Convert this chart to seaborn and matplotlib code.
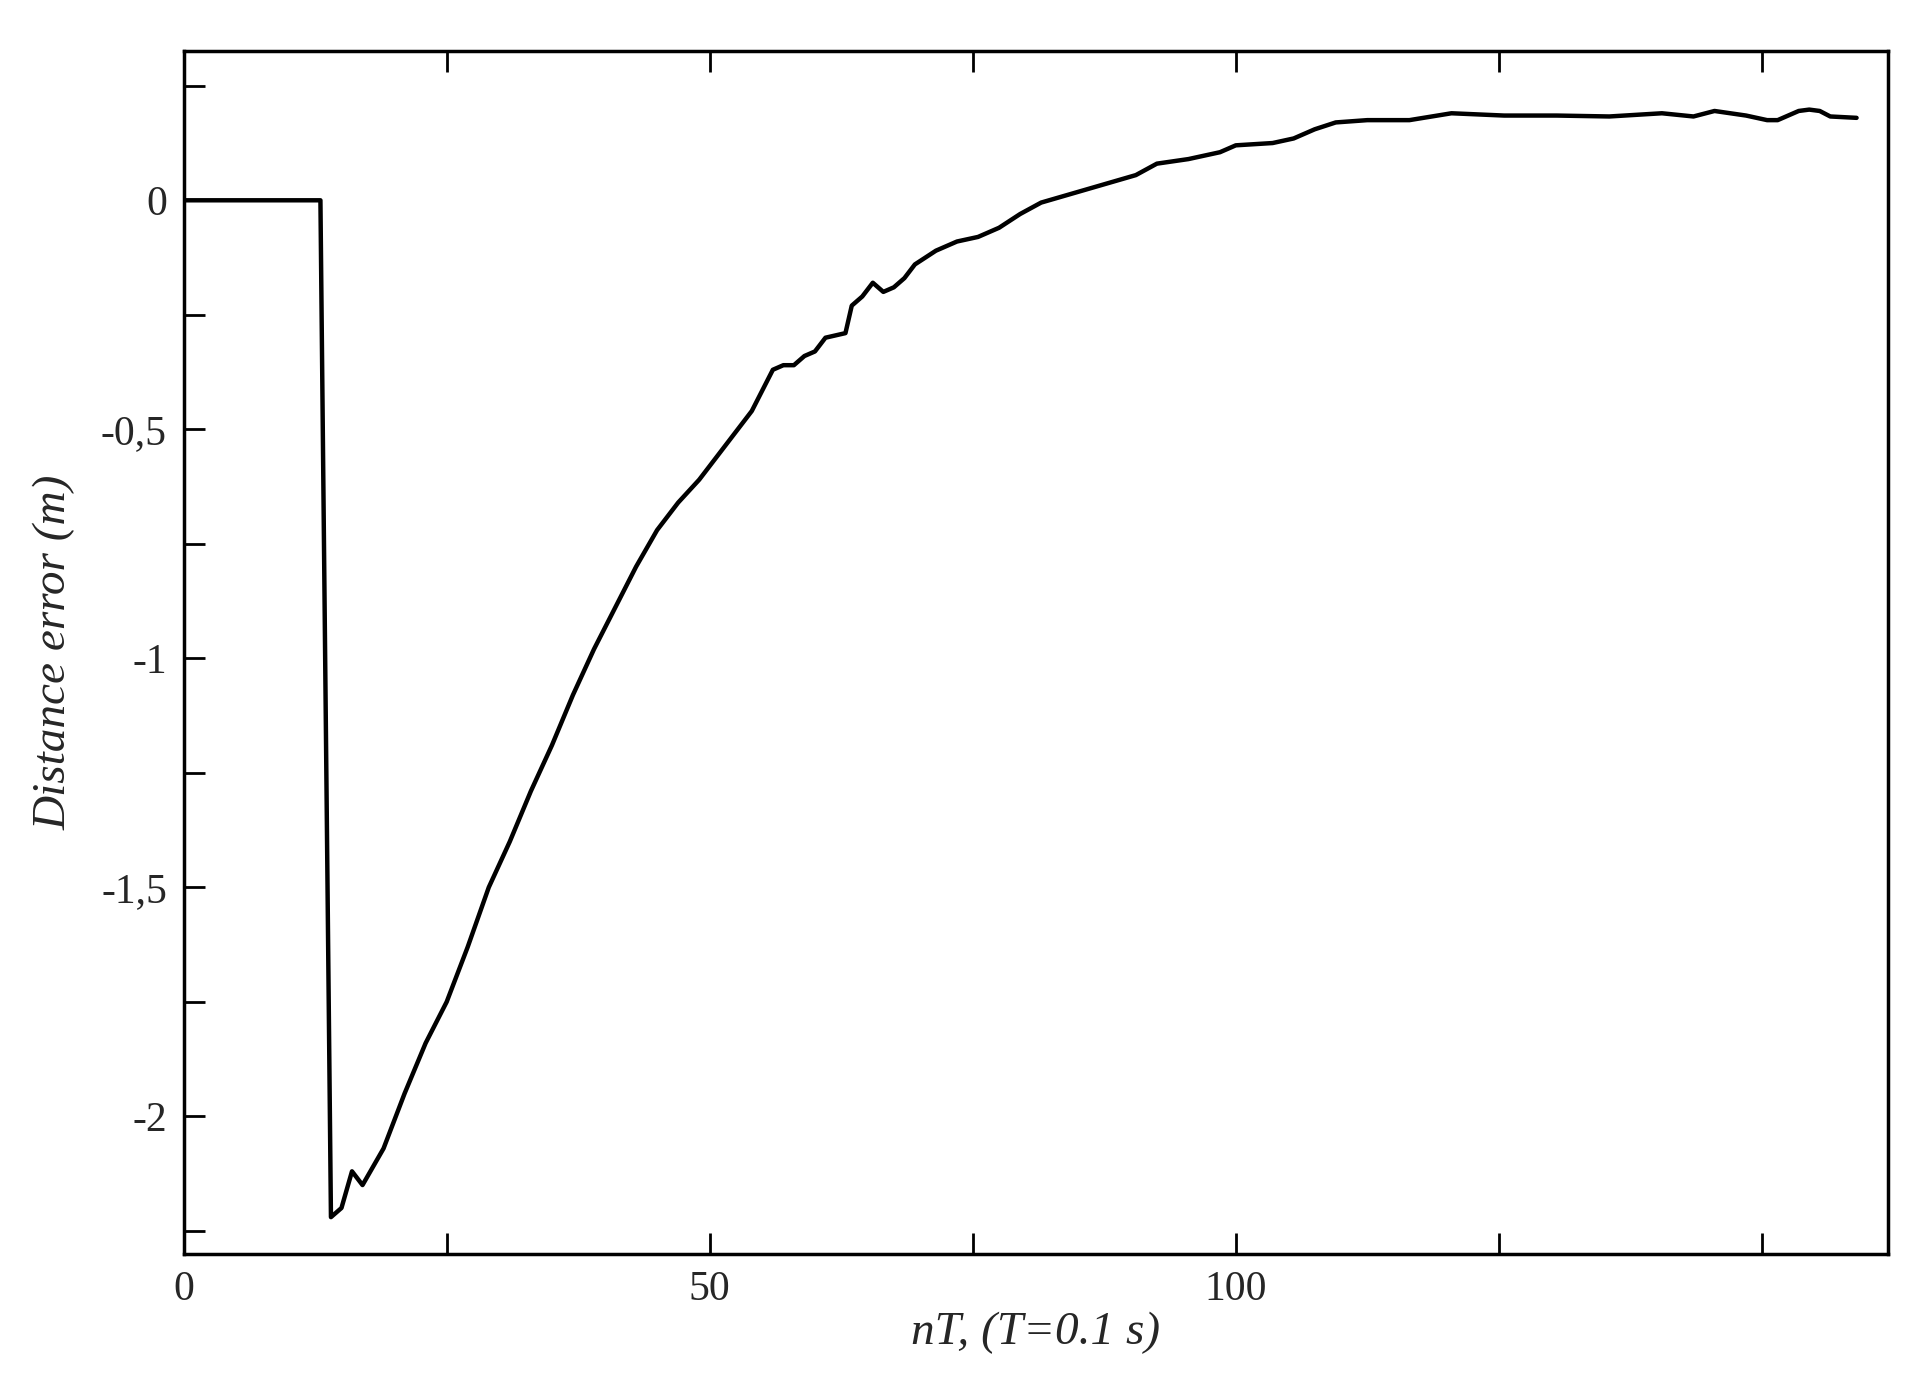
import numpy as np
import matplotlib
matplotlib.use('Agg')
import matplotlib.pyplot as plt
import seaborn as sns
from matplotlib.ticker import MultipleLocator, FuncFormatter

# Werte
nT = [0, 13, 14, 15, 16, 17, 19, 21, 23, 25, 27, 29, 31, 33, 35, 37, 39, 41, 43, 45,
      47, 49, 51, 54, 56, 57, 58, 59, 60, 61, 62.9, 63.5, 64.5, 65.5, 66.5, 67.5, 68.5, 69.5,
      71.5, 72.5, 73.5, 74.5, 75.5, 77.5, 79.5, 81.5, 84.5, 87.5, 90.5, 92.5, 95.5, 98.5,
      100, 103.5, 105.5, 107.5, 109.5, 112.5, 116.5, 120.5, 125.5, 130.5, 135.5, 140.5,
      143.5, 145.5, 148.5, 150.5, 151.5, 153.5, 154.5, 155.5, 156.5, 159]
err = [0, 0, -2.22, -2.20, -2.12, -2.15, -2.07, -1.95, -1.84, -1.75, -1.63, -1.50, -1.40,
       -1.29, -1.19, -1.08, -0.98, -0.89, -0.80, -0.72, -0.66, -0.61, -0.55, -0.46, -0.37,
       -0.36, -0.36, -0.34, -0.33, -0.30, -0.29, -0.23, -0.21, -0.18, -0.20, -0.19, -0.17,
       -0.14, -0.11, -0.10, -0.09, -0.085, -0.08, -0.06, -0.03, -0.005, 0.015, 0.035, 0.055,
       0.08, 0.09, 0.105, 0.12, 0.125, 0.135, 0.155, 0.17, 0.175, 0.175, 0.19, 0.185, 0.185,
       0.183, 0.19, 0.183, 0.195, 0.185, 0.175, 0.175, 0.195, 0.198, 0.195, 0.183, 0.18]

sns.set_theme(style="ticks")
plt.rcParams['font.family'] = ['Liberation Serif', 'DejaVu Serif']

fig = plt.figure(figsize=(19.13, 13.9), dpi=100)
ax = fig.add_axes([0.096, 0.098, 0.891, 0.865])
sns.lineplot(x=nT, y=err, color='black', linewidth=3.2, ax=ax, estimator=None, sort=False)

ax.set_xlim(0, 162)
ax.set_ylim(-2.30, 0.325)
ax.xaxis.set_major_locator(MultipleLocator(50))
ax.xaxis.set_minor_locator(MultipleLocator(25))
ax.yaxis.set_major_locator(MultipleLocator(0.5))
ax.yaxis.set_minor_locator(MultipleLocator(0.25))
ax.xaxis.set_major_formatter(FuncFormatter(lambda v, p: '' if v >= 150 else f'{v:g}'))
ax.yaxis.set_major_formatter(FuncFormatter(lambda v, p: f'{v:g}'.replace('.', ',')))
ax.tick_params(which='both', direction='in', top=True, right=False, color='black', width=2)
ax.tick_params(which='major', length=15, labelsize=30, pad=12)
ax.tick_params(which='minor', length=15)
for s in ax.spines.values():
    s.set_linewidth(2.5)
    s.set_color('black')

ax.set_xlabel('nT, (T=0.1 s)', fontsize=34, style='italic', labelpad=2)
ax.set_ylabel('Distance error (m)', fontsize=34, style='italic', labelpad=18)

fig.savefig('out.png', dpi=100, facecolor='white')
